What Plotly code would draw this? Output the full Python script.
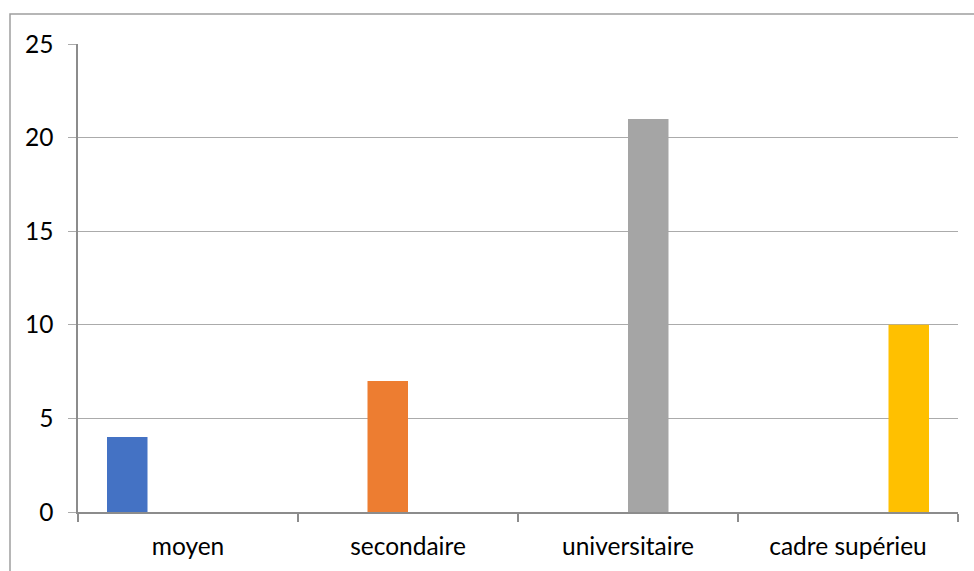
import plotly.graph_objects as go

categories = ["moyen", "secondaire", "universitaire", "cadre supérieu"]
series_names = ["moyen", "secondaire", "universitaire", "cadre supérieu"]
series_values = [
    [4, None, None, None],
    [None, 7, None, None],
    [None, None, 21, None],
    [None, None, None, 10],
]
series_colors = ["#4472C4", "#ED7D31", "#A5A5A5", "#FFC000"]
y_ticks = [0, 5, 10, 15, 20, 25]

W, H = 974, 571
L, R, T, B = 78, 16, 44, 59

fig = go.Figure()
for name, vals, col in zip(series_names, series_values, series_colors):
    fig.add_trace(go.Bar(x=categories, y=vals, name=name, marker_color=col,
                         marker_line_width=0, hoverinfo="skip"))

font = dict(family="Lato, 'Open Sans', sans-serif", size=24.5, color="#000000")
axis_col = "#8C8C8C"
grid_col = "#ABABAB"

fig.update_layout(
    width=W, height=H,
    margin=dict(l=L, r=R, t=T, b=B),
    paper_bgcolor="white", plot_bgcolor="white",
    barmode="group", bargap=58 / 220, bargroupgap=0,
    showlegend=False,
    font=font,
)
fig.update_xaxes(
    type="category", tickson="boundaries", ticks="outside", ticklen=8,
    tickcolor=axis_col, tickwidth=1.5,
    showline=True, linecolor=axis_col, linewidth=1.5,
    showgrid=False, tickfont=font, ticklabelstandoff=12, automargin=False,
)
fig.update_yaxes(
    range=[0, 25], tickvals=y_ticks, ticks="outside", ticklen=8,
    tickcolor=grid_col, tickwidth=1.2,
    showline=True, linecolor=axis_col, linewidth=1.5,
    showgrid=True, gridcolor=grid_col, gridwidth=1.2,
    zeroline=False, tickfont=font, ticklabelstandoff=10, automargin=False,
)

# outer chart frame (open at right and bottom edges)
pw, ph = W - L - R, H - T - B
x0 = (10 - L) / pw
y0 = 1 + (T - 14) / ph
fig.add_shape(type="path", xref="paper", yref="paper",
              path=f"M {x0} {-0.5} L {x0} {y0} L {1.5} {y0}",
              line=dict(color="#9E9E9E", width=1.5))

fig.write_html("out.html")
